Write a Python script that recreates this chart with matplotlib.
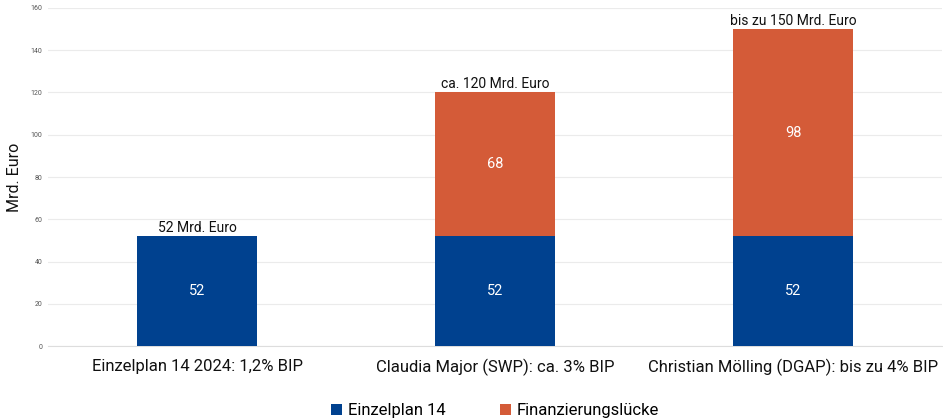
import numpy as np
import matplotlib.pyplot as plt

plt.rcParams['font.family'] = ['Roboto', 'DejaVu Sans']

categories = ["Einzelplan 14 2024: 1,2% BIP",
              "Claudia Major (SWP): ca. 3% BIP",
              "Christian Mölling (DGAP): bis zu 4% BIP"]
einzelplan = [52, 52, 52]
luecke = [0, 68, 98]
totals_text = ["52 Mrd. Euro", "ca. 120 Mrd. Euro", "bis zu 150 Mrd. Euro"]

blue = "#00418F"
orange = "#D45B38"

fig = plt.figure(figsize=(9.43, 4.19), dpi=100)
ax = fig.add_axes([0.051, 0.174, 0.948, 0.807])

x = np.arange(len(categories))
w = 0.4
ax.bar(x, einzelplan, w, color=blue, label="Einzelplan 14", zorder=3)
ax.bar(x, luecke, w, bottom=einzelplan, color=orange, label="Finanzierungslücke", zorder=3)

for i in range(len(categories)):
    ax.text(x[i], einzelplan[i] / 2, str(einzelplan[i]), ha="center", va="center",
            color="white", fontsize=10.5, zorder=4)
    if luecke[i] > 0:
        ax.text(x[i], einzelplan[i] + luecke[i] / 2, str(luecke[i]), ha="center",
                va="center", color="white", fontsize=10.5, zorder=4)
    top = einzelplan[i] + luecke[i]
    ax.text(x[i], top + 0.5, totals_text[i], ha="center", va="bottom",
            color="#111111", fontsize=10, zorder=4)

ax.set_xlim(-0.5, 2.5)
ax.set_ylim(0, 160)
ax.set_yticks(np.arange(0, 161, 20))
ax.tick_params(axis="y", labelsize=5, colors="#555555", length=0, pad=4)
ax.tick_params(axis="x", labelsize=12, length=0, pad=9, colors="#111111")
ax.set_xticks(x)
ax.set_xticklabels(categories)
ax.grid(axis="y", color="#EBEBEB", linewidth=0.8, zorder=0)
for s in ["top", "right", "left"]:
    ax.spines[s].set_visible(False)
ax.spines["bottom"].set_color("#DDDDDD")
ax.set_ylabel("Mrd. Euro", fontsize=11.5, color="#111111", labelpad=6)

ax.legend(loc="upper center", bbox_to_anchor=(0.5, -0.125), ncol=2, frameon=False,
          fontsize=12, handlelength=0.65, handleheight=0.65, columnspacing=3.3,
          handletextpad=0.35)

fig.savefig("out.png", dpi=100)
